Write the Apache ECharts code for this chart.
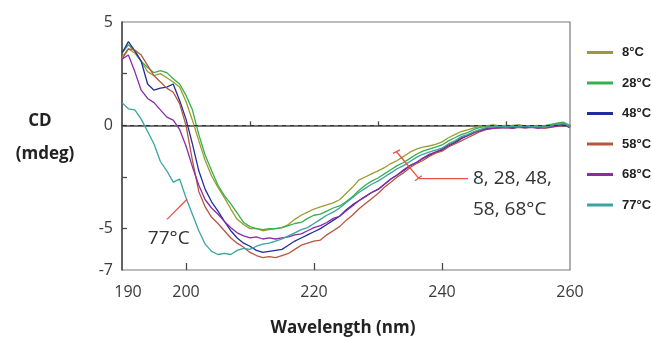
<!DOCTYPE html>
<html>
<head>
<meta charset="utf-8">
<script src="https://cdn.jsdelivr.net/npm/echarts@6/dist/echarts.min.js"></script>
<style>
html,body{margin:0;padding:0;background:#fff;}
#c{width:651px;height:340px;}
</style>
</head>
<body>
<div id="c"></div>
<script>
// ---- data ----
const wavelength = [190,191,192,193,194,195,196,197,198,199,200,201,202,203,204,205,206,207,208,209,210,211,212,213,214,215,216,217,218,219,220,221,222,223,224,225,226,227,228,229,230,231,232,233,234,235,236,237,238,239,240,241,242,243,244,245,246,247,248,249,250,251,252,253,254,255,256,257,258,259,260];
const seriesNames = ['8°C','28°C','48°C','58°C','68°C','77°C'];
const cd8  = [3.3,3.7,3.5,3.1,2.6,2.4,2.5,2.3,2.1,1.85,1.15,0.25,-0.75,-1.7,-2.45,-3.0,-3.5,-4.05,-4.55,-4.8,-5.0,-5.0,-5.1,-5.05,-5.0,-4.95,-4.8,-4.55,-4.35,-4.2,-4.05,-3.95,-3.85,-3.75,-3.6,-3.3,-3.0,-2.65,-2.5,-2.35,-2.2,-2.05,-1.85,-1.7,-1.5,-1.3,-1.15,-1.05,-1.0,-0.92,-0.8,-0.6,-0.45,-0.3,-0.22,-0.12,-0.05,-0.02,0.02,-0.03,0.0,-0.02,0.03,-0.05,-0.03,0.0,-0.05,0.02,0.08,0.1,-0.05];
const cd28 = [3.5,3.9,3.6,3.1,2.8,2.55,2.65,2.55,2.25,2.0,1.45,0.75,-0.45,-1.45,-2.2,-2.9,-3.4,-3.8,-4.25,-4.7,-4.9,-5.0,-5.05,-5.0,-5.0,-4.95,-4.85,-4.75,-4.7,-4.5,-4.35,-4.3,-4.15,-4.0,-3.9,-3.7,-3.45,-3.15,-2.9,-2.7,-2.55,-2.35,-2.15,-1.95,-1.8,-1.6,-1.4,-1.25,-1.15,-1.05,-0.95,-0.75,-0.6,-0.45,-0.35,-0.2,-0.1,-0.05,0.0,-0.02,-0.05,0.0,-0.03,-0.06,-0.02,-0.04,-0.02,0.05,0.1,0.15,0.0];
const cd48 = [3.5,4.05,3.6,3.1,2.0,1.7,1.8,1.85,2.0,1.2,0.3,-0.9,-2.2,-3.1,-3.7,-4.15,-4.65,-5.1,-5.45,-5.7,-5.85,-6.05,-6.15,-6.1,-6.05,-6.0,-5.8,-5.6,-5.45,-5.3,-5.15,-5.0,-4.8,-4.6,-4.4,-4.1,-3.85,-3.65,-3.45,-3.25,-3.1,-2.85,-2.6,-2.4,-2.2,-1.95,-1.8,-1.6,-1.45,-1.3,-1.2,-1.0,-0.85,-0.65,-0.5,-0.35,-0.25,-0.15,-0.12,-0.1,-0.12,-0.08,-0.1,-0.05,-0.1,-0.08,-0.12,-0.05,0.0,0.05,-0.1];
const cd58 = [3.2,3.7,3.65,3.4,2.9,2.4,2.1,1.8,1.6,1.05,0.0,-1.7,-3.2,-3.95,-4.45,-4.75,-5.1,-5.45,-5.7,-5.9,-6.15,-6.3,-6.4,-6.35,-6.4,-6.3,-6.2,-6.0,-5.8,-5.7,-5.6,-5.55,-5.3,-5.1,-4.9,-4.6,-4.35,-4.05,-3.8,-3.55,-3.3,-3.0,-2.75,-2.5,-2.3,-2.05,-1.85,-1.7,-1.5,-1.35,-1.25,-1.05,-0.9,-0.75,-0.6,-0.45,-0.3,-0.2,-0.15,-0.12,-0.1,-0.15,-0.1,-0.12,-0.08,-0.1,-0.15,-0.1,-0.05,0.0,-0.1];
const cd68 = [3.2,3.4,2.6,1.7,1.3,1.1,0.75,0.4,0.25,-0.2,-1.0,-2.0,-2.9,-3.6,-4.0,-4.3,-4.65,-4.95,-5.2,-5.35,-5.45,-5.4,-5.5,-5.45,-5.5,-5.45,-5.4,-5.3,-5.25,-5.1,-4.95,-4.85,-4.7,-4.5,-4.4,-4.15,-3.9,-3.65,-3.45,-3.25,-3.1,-2.85,-2.6,-2.4,-2.15,-1.95,-1.8,-1.6,-1.4,-1.3,-1.15,-0.95,-0.8,-0.6,-0.5,-0.35,-0.25,-0.18,-0.15,-0.12,-0.1,-0.15,-0.08,-0.12,-0.1,-0.15,-0.1,-0.08,-0.02,0.03,-0.1];
const cd77 = [1.1,0.8,0.75,0.3,-0.3,-0.9,-1.75,-2.2,-2.75,-2.6,-3.5,-4.3,-5.1,-5.75,-6.1,-6.25,-6.2,-6.25,-6.05,-5.95,-6.0,-5.85,-5.75,-5.7,-5.6,-5.5,-5.35,-5.2,-5.05,-4.95,-4.75,-4.55,-4.35,-4.2,-4.0,-3.75,-3.5,-3.25,-3.05,-2.85,-2.7,-2.5,-2.3,-2.1,-1.95,-1.75,-1.55,-1.4,-1.3,-1.2,-1.1,-0.9,-0.75,-0.55,-0.45,-0.3,-0.2,-0.1,-0.08,-0.05,-0.08,-0.05,-0.08,-0.03,-0.08,-0.05,-0.1,-0.02,0.05,0.08,-0.05];
const xLabelValues = [190,200,220,240,260];
const xMajorTicks = [200,220,240];
const xMinorTicks = [210,230,250];
const yLabelValues = [-7,-5,0,5];
const yTickValues = [-5,-2.5,0,2.5];

const colors = ['#9d9b30','#34b04c','#232e98','#b5563f','#8a2ba8','#3ba3a0'];
const allData = [cd8,cd28,cd48,cd58,cd68,cd77];

const chart = echarts.init(document.getElementById('c'), null, {renderer:'canvas'});
const tickFont = {fontFamily:'Open Sans', fontSize:16, color:'#3a3a3a'};

const series = seriesNames.map((name,i)=>({
  name, type:'line', showSymbol:false, symbol:'none', animation:false,
  data: wavelength.map((w,k)=>[w, allData[i][k]]),
  lineStyle:{color:colors[i], width:1.3},
  itemStyle:{color:colors[i]},
  z: 3
}));
series[0].markLine = {
  silent:true, symbol:'none', label:{show:false},
  lineStyle:{color:'#333', type:[4,4], width:1},
  data:[{yAxis:0}]
};

chart.setOption({
  animation:false,
  backgroundColor:'#fff',
  grid:{left:122, right:81, top:22, bottom:70, show:true, borderColor:'#7a7a7a', borderWidth:1.2},
  xAxis:[{
    type:'value', min:190, max:260, position:'bottom',
    axisLine:{show:true, lineStyle:{color:'#4a4a4a', width:1.5}},
    axisTick:{show:true, inside:true, length:4, customValues:xMinorTicks, lineStyle:{color:'#4a4a4a', width:1.3}},
    axisLabel:{show:true, customValues:xLabelValues, margin:14, ...tickFont,
      formatter:(v)=> v===190 ? '{s|190}' : String(v),
      rich:{s:{fontFamily:'Open Sans', fontSize:16, color:'#3a3a3a', padding:[0,0,0,12]}}},
    splitLine:{show:false}
  },{
    type:'value', min:190, max:260, position:'bottom',
    axisLine:{show:false},
    axisTick:{show:true, inside:true, length:7, customValues:xMajorTicks, lineStyle:{color:'#4a4a4a', width:1.3}},
    axisLabel:{show:false},
    splitLine:{show:false}
  }],
  yAxis:{
    type:'value', min:-7, max:5,
    axisLine:{show:true, lineStyle:{color:'#4a4a4a', width:1.5}},
    axisTick:{show:true, inside:true, length:5, customValues:yTickValues, lineStyle:{color:'#4a4a4a', width:1.3}},
    axisLabel:{show:true, customValues:yLabelValues, margin:9, ...tickFont},
    splitLine:{show:false}
  },
  legend:{
    orient:'vertical', left:582, top:41, itemGap:17.5,
    icon:'rect', itemWidth:26, itemHeight:3,
    textStyle:{fontFamily:'Liberation Sans Narrow, Liberation Sans, Arial', fontWeight:'bold', fontSize:13, color:'#222', padding:[0,0,0,4]},
    data:seriesNames
  },
  series
});

// annotations placed in data coordinates
const px = (w,v)=>chart.convertToPixel({gridIndex:0},[w,v]);
const red = '#e8504a';
const seg = (a,b)=>{const p=px(a[0],a[1]), q=px(b[0],b[1]); return {type:'line', shape:{x1:p[0],y1:p[1],x2:q[0],y2:q[1]}, style:{stroke:red, lineWidth:1.3}, z:10};};
const label77 = px(197.3,-5.48);
const labelA = px(244.84,-2.6);
const labelB = px(244.84,-4.06);
const annFont = {fontFamily:'Open Sans', fontSize:19, fill:'#333'};
chart.setOption({
  graphic:[
    seg([197.03,-4.55],[200.16,-3.58]),
    seg([232.34,-1.36],[233.44,-1.19]),
    seg([232.89,-1.28],[236.41,-2.58]),
    seg([235.78,-2.68],[236.83,-2.44]),
    seg([236.41,-2.58],[244.06,-2.58]),
    {type:'text', x:label77[0], y:label77[1], style:{text:'77°C', align:'center', verticalAlign:'middle', ...annFont}, z:10},
    {type:'text', x:labelA[0], y:labelA[1], style:{text:'8, 28, 48,', align:'left', verticalAlign:'middle', ...annFont}, z:10},
    {type:'text', x:labelB[0], y:labelB[1], style:{text:'58, 68°C', align:'left', verticalAlign:'middle', ...annFont}, z:10},
    {type:'text', x:40, y:121, style:{text:'CD', align:'center', verticalAlign:'middle', fontFamily:'Open Sans', fontWeight:'bold', fontSize:17, fill:'#222'}},
    {type:'text', x:45, y:154, style:{text:'(mdeg)', align:'center', verticalAlign:'middle', fontFamily:'Open Sans', fontWeight:'bold', fontSize:17, fill:'#222'}},
    {type:'text', x:343, y:328, style:{text:'Wavelength (nm)', align:'center', verticalAlign:'middle', fontFamily:'Open Sans', fontWeight:'bold', fontSize:17, fill:'#222'}}
  ]
});
</script>
</body>
</html>
